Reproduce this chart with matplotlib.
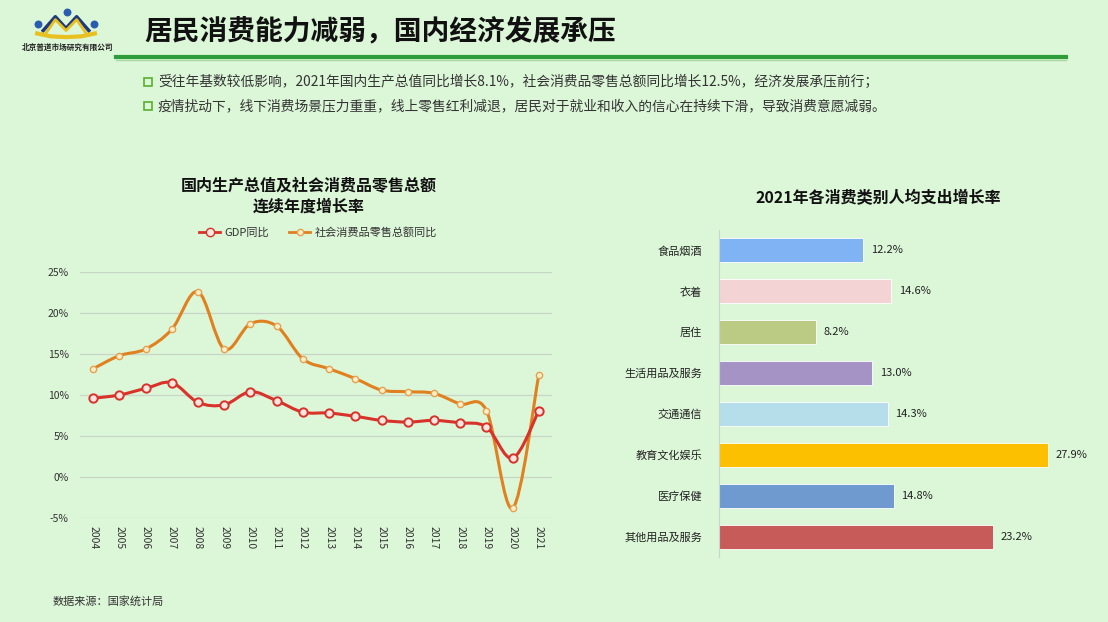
import matplotlib
matplotlib.use('Agg')
import matplotlib.pyplot as plt
from matplotlib.path import Path
from matplotlib.patches import PathPatch, Rectangle
from matplotlib.lines import Line2D

plt.rcParams['font.family'] = ['Noto Sans CJK SC', 'DejaVu Sans']

# ---- data ----
years = list(range(2004, 2022))
gdp = [9.6, 10.0, 10.8, 11.5, 9.1, 8.8, 10.4, 9.3, 7.9, 7.8, 7.4, 6.9, 6.7, 6.9, 6.6, 6.1, 2.3, 8.1]
retail = [13.2, 14.8, 15.6, 18.0, 22.6, 15.6, 18.7, 18.4, 14.4, 13.2, 12.0, 10.6, 10.4, 10.2, 8.9, 8.1, -3.8, 12.5]

categories = ['食品烟酒', '衣着', '居住', '生活用品及服务', '交通通信', '教育文化娱乐', '医疗保健', '其他用品及服务']
growth = [12.2, 14.6, 8.2, 13.0, 14.3, 27.9, 14.8, 23.2]
bar_colors = ['#7fb3f4', '#f3d3d4', '#bccb84', '#a693c6', '#b6deea', '#fcc001', '#6f9ad0', '#c65b5a']

bullets = ['受往年基数较低影响，2021年国内生产总值同比增长8.1%，社会消费品零售总额同比增长12.5%，经济发展承压前行；',
           '疫情扰动下，线下消费场景压力重重，线上零售红利减退，居民对于就业和收入的信心在持续下滑，导致消费意愿减弱。']

bg = '#dcf6d8'
W, H = 1108, 622
fig = plt.figure(figsize=(W / 100, H / 100), dpi=100, facecolor=bg)


def fx(px):
    return px / W


def fy(py):
    return 1 - py / H


def smooth_path(xs, ys):
    # excel-like smoothed line through the points
    verts = [(xs[0], ys[0])]
    codes = [Path.MOVETO]
    n = len(xs)
    for i in range(n - 1):
        a = i - 1 if i > 0 else i
        b = i + 2 if i + 2 < n else i + 1
        c1 = (xs[i] + (xs[i + 1] - xs[a]) / 6, ys[i] + (ys[i + 1] - ys[a]) / 6)
        c2 = (xs[i + 1] - (xs[b] - xs[i]) / 6, ys[i + 1] - (ys[b] - ys[i]) / 6)
        verts += [c1, c2, (xs[i + 1], ys[i + 1])]
        codes += [Path.CURVE4] * 3
    return Path(verts, codes)


# ---- header ----
fig.text(fx(144), fy(31), '居民消费能力减弱，国内经济发展承压', fontsize=20, fontweight='bold',
         color='#111111', va='center', ha='left')
fig.add_artist(Line2D([fx(116), fx(1066)], [fy(57), fy(57)], color='#2f9c3a', lw=3))
fig.add_artist(Line2D([fx(116), fx(1066)], [fy(59.5), fy(59.5)], color='#a8d8a0', lw=1))
for i, t in enumerate(bullets):
    y = 82 + i * 24
    fig.add_artist(Rectangle((fx(144), fy(y + 4)), fx(8), 8 / H, fill=False, ec='#58b030', lw=1.2))
    fig.text(fx(158), fy(y), t, fontsize=9.9, color='#333333', va='center', ha='left')

# logo (rough)
lg = fig.add_axes([fx(28), fy(40), fx(76), 32 / H])
lg.set_xlim(0, 10)
lg.set_ylim(0, 4.4)
lg.axis('off')
lg.plot([2, 3.6, 5, 6.4, 8], [1.3, 3.2, 1.6, 3.2, 1.3], color='#1f3a7a', lw=2.5)
lg.plot([2.4, 3.6, 5, 6.4, 7.6], [1.0, 2.8, 1.3, 2.8, 1.0], color='#e8c020', lw=2)
lg.plot([1.2, 3, 5, 7, 8.8], [0.9, 0.5, 0.4, 0.5, 0.9], color='#e8c020', lw=3)
lg.scatter([1.3, 5.1, 8.7], [2.2, 3.8, 2.2], s=22, color='#2a5db0')
fig.text(fx(68), fy(47), '北京普道市场研究有限公司', fontsize=5.5, color='#222222', ha='center', va='center',
         fontweight='bold')

# ---- line chart ----
ax = fig.add_axes([fx(80), fy(518), fx(472), 246 / H])
ax.set_facecolor(bg)
ax.set_xlim(2003.5, 2021.5)
ax.set_ylim(-5, 25)
ax.set_yticks([-5, 0, 5, 10, 15, 20, 25])
ax.set_yticklabels([f'{v}%' for v in [-5, 0, 5, 10, 15, 20, 25]], fontsize=7.5, color='#333333')
ax.set_xticks(years)
ax.set_xticklabels([str(y) for y in years], rotation=-90, fontsize=7.5, color='#333333')
ax.tick_params(length=0, pad=6)
ax.tick_params(axis='y', pad=8)
ax.grid(axis='y', color='#c8d6c8', lw=0.9)
ax.set_axisbelow(True)
for s in ax.spines.values():
    s.set_visible(False)

red = '#d8322a'
orange = '#e0801f'
ax.add_patch(PathPatch(smooth_path(years, retail), fc='none', ec=orange, lw=2.2, zorder=3))
ax.add_patch(PathPatch(smooth_path(years, gdp), fc='none', ec=red, lw=2.2, zorder=3))
ax.plot(years, retail, ls='none', marker='o', ms=4.5, mfc='#fdf0c8', mec='#e6a050', mew=1, zorder=4)
ax.plot(years, gdp, ls='none', marker='o', ms=6, mfc='#fbe6e0', mec=red, mew=1.4, zorder=4)

fig.text(fx(309), fy(186), '国内生产总值及社会消费品零售总额', fontsize=11.5, fontweight='bold',
         ha='center', va='center', color='#111111')
fig.text(fx(309), fy(207), '连续年度增长率', fontsize=11.5, fontweight='bold',
         ha='center', va='center', color='#111111')
handles = [Line2D([], [], color=red, lw=2, marker='o', ms=6, mfc='#fbe6e0', mec=red),
           Line2D([], [], color=orange, lw=2, marker='o', ms=4.5, mfc='#fdf0c8', mec='#e6a050')]
fig.legend(handles, ['GDP同比', '社会消费品零售总额同比'], loc='center', bbox_to_anchor=(fx(318), fy(232)),
           ncol=2, frameon=False, fontsize=8, handlelength=1.9, handletextpad=0.4, columnspacing=1.8,
           labelcolor='#333333')

fig.text(fx(53), fy(601), '数据来源：国家统计局', fontsize=8, color='#333333', va='center')

# ---- bar chart ----
bx = fig.add_axes([fx(719), fy(557), fx(354), 327 / H])
bx.set_facecolor(bg)
pos = list(range(len(categories)))
bx.barh(pos, growth, height=0.59, color=bar_colors, edgecolor='white', linewidth=0.6)
bx.set_xlim(0, 30)
bx.set_ylim(7.5, -0.5)
bx.set_yticks(pos)
bx.set_yticklabels(categories, fontsize=8, color='#222222')
bx.set_xticks([])
bx.tick_params(length=0, pad=12)
for s in ['top', 'right', 'bottom']:
    bx.spines[s].set_visible(False)
bx.spines['left'].set_color('#c8d6c8')
for p, v in zip(pos, growth):
    bx.text(v + 0.65, p, f'{v}%', va='center', ha='left', fontsize=8, color='#222222')

fig.text(fx(878), fy(198), '2021年各消费类别人均支出增长率', fontsize=11.5, fontweight='bold',
         ha='center', va='center', color='#111111')

fig.savefig('out.png', dpi=100, facecolor=bg)
